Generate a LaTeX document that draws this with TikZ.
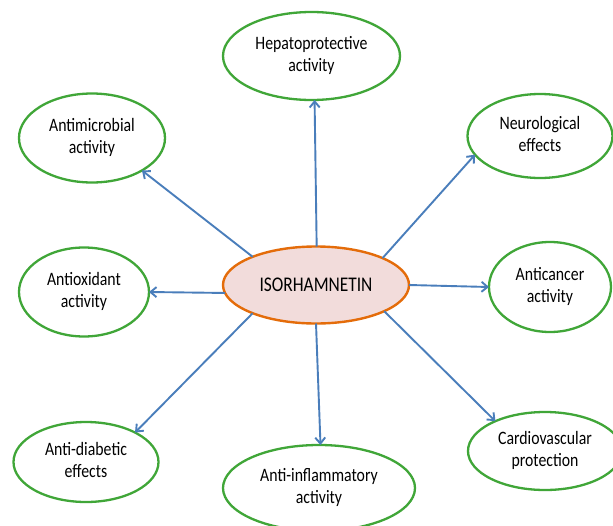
\documentclass[tikz,border=0pt]{standalone}
\usepackage{fontspec}
\setmainfont{Carlito}
\usetikzlibrary{shapes.geometric,arrows.meta}
\definecolor{elgreen}{RGB}{64,166,56}
\definecolor{arblue}{RGB}{74,126,187}
\definecolor{isoorange}{RGB}{228,108,10}
\definecolor{isopink}{RGB}{242,220,219}
\newcommand\mylbl[2]{\raisebox{-2.5pt}{\scalebox{1}[1.2]{\begin{tabular}{@{}c@{}}#1\\#2\end{tabular}}}}
\begin{document}
\begin{tikzpicture}[x=1pt,y=-1pt,
  effect/.style={ellipse, draw=elgreen, line width=2.3pt, fill=white, inner sep=0pt, outer sep=0pt,
    font=\fontsize{15.8}{19}\selectfont, text=black},
  centre/.style={ellipse, draw=isoorange, line width=2.4pt, fill=isopink, inner sep=0pt, outer sep=0pt,
    font=\fontsize{17.4}{20}\selectfont, text=black},
  link/.style={draw=arblue, line width=1.9pt, -{Straight Barb[length=6pt,width=10pt]}}]
\useasboundingbox (0,0) rectangle (613,525);
\fill[white] (0,0) rectangle (613,525);
\node[centre, minimum width=186pt, minimum height=77pt] (iso) at (316,285) {\scalebox{1}[1.2]{ISORHAMNETIN}};
\node[effect, minimum width=177pt, minimum height=88pt] (hep) at (311.5,56) {\mylbl{Hepatoprotective}{activity}};
\node[effect, minimum width=146pt, minimum height=89pt] (amic) at (92,138) {\mylbl{Antimicrobial}{activity}};
\node[effect, minimum width=145pt, minimum height=84pt] (neu) at (540,136) {\mylbl{Neurological}{effects}};
\node[effect, minimum width=130pt, minimum height=89pt] (aox) at (84,292) {\mylbl{Antioxidant}{activity}};
\node[effect, minimum width=122pt, minimum height=90pt] (anc) at (550,287) {\mylbl{Anticancer}{activity}};
\node[effect, minimum width=145pt, minimum height=80pt] (adb) at (86,462) {\mylbl{Anti-diabetic}{effects}};
\node[effect, minimum width=192pt, minimum height=86pt] (ainf) at (319,488) {\mylbl{Anti-inflammatory}{activity}};
\node[effect, minimum width=154pt, minimum height=78pt] (cv) at (545,451) {\mylbl{Cardiovascular}{protection}};
\draw[link] (iso.89) -- (hep.274);
\draw[link] (iso.156) -- (amic.-33);
\draw[link] (iso.22) -- (neu.196);
\draw[link] (iso.185) -- (aox.0);
\draw[link] (iso.0) -- (anc.180);
\draw[link] (iso.204) -- (adb.31);
\draw[link] (iso.270) -- (ainf.88);
\draw[link] (iso.339) -- (cv.149);
\end{tikzpicture}
\end{document}
